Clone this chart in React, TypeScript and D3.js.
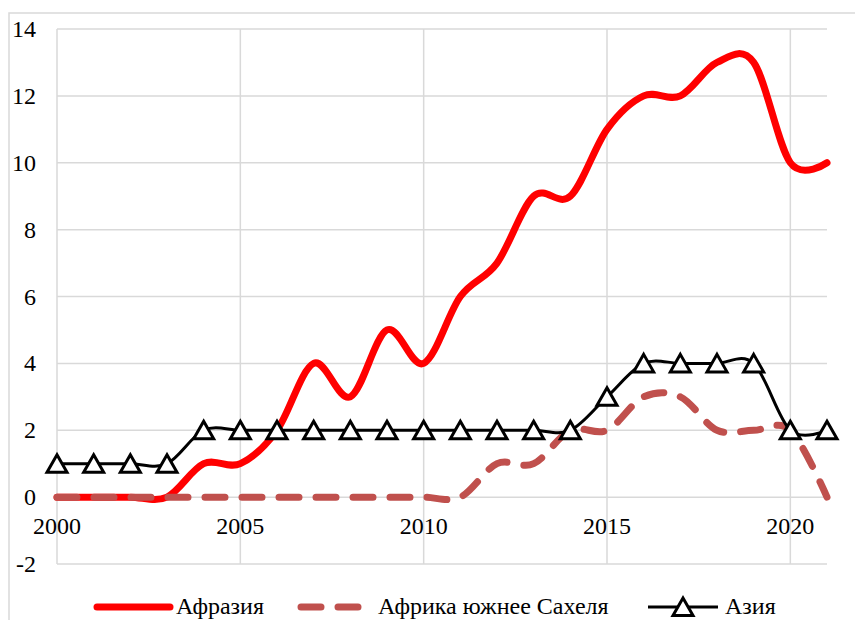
import React from "react";
import * as d3 from "d3";

const years = d3.range(2000, 2022);
const afrazia = [0, 0, 0, 0, 1, 1, 2, 4, 3, 5, 4, 6, 7, 9, 9, 11, 12, 12, 13, 13, 10, 10];
const africaSouth = [0, 0, 0, 0, 0, 0, 0, 0, 0, 0, 0, 0, 1, 1, 2, 2, 3, 3, 2, 2, 2, 0];
const asia = [1, 1, 1, 1, 2, 2, 2, 2, 2, 2, 2, 2, 2, 2, 2, 3, 4, 4, 4, 4, 2, 2];
const yTicks = [-2, 0, 2, 4, 6, 8, 10, 12, 14];
const xTicks = [2000, 2005, 2010, 2015, 2020];
const legendLabels = ["Афразия", "Африка южнее Сахеля", "Азия"];

const W = 855;
const H = 620;
const FONT = '"Liberation Serif", "Times New Roman", "DejaVu Serif", serif';
const textStyle: React.CSSProperties = { fontFamily: FONT, fontSize: 24 };

export default function App() {
  const x = d3.scaleLinear().domain([2000, 2021]).range([57, 827]);
  const y = d3.scaleLinear().domain([-2, 14]).range([564, 29]);
  const line = d3
    .line<number>()
    .x((_, i) => x(years[i]))
    .y((d) => y(d))
    .curve(d3.curveCardinal.tension(0));

  const tri = (cx: number, cy: number) =>
    `M${cx},${cy - 9}L${cx + 10},${cy + 8.5}L${cx - 10},${cy + 8.5}Z`;

  return (
    <svg
      width={W}
      height={H}
      style={{ position: "absolute", left: 0, top: 0, background: "#fff", fontFamily: FONT }}
    >
      <rect x={9} y={13} width={900} height={700} fill="#fff" stroke="#D9D9D9" strokeWidth={1.5} />
      {yTicks.map((t) => (
        <line key={"h" + t} x1={x(2000)} x2={x(2021)} y1={y(t)} y2={y(t)} stroke="#D9D9D9" strokeWidth={1.5} />
      ))}
      {xTicks.map((t) => (
        <line key={"v" + t} x1={x(t)} x2={x(t)} y1={y(14)} y2={y(-2)} stroke="#D9D9D9" strokeWidth={1.5} />
      ))}
      {yTicks.map((t) => (
        <text key={"yl" + t} x={36} y={y(t) + 8} textAnchor="end" style={textStyle} fill="#000">
          {t}
        </text>
      ))}
      {xTicks.map((t) => (
        <text key={"xl" + t} x={x(t)} y={534} textAnchor="middle" style={textStyle} fill="#000">
          {t}
        </text>
      ))}
      <path d={line(afrazia) || ""} fill="none" stroke="#FF0000" strokeWidth={7} strokeLinejoin="round" strokeLinecap="round" />
      <path
        d={line(africaSouth) || ""}
        fill="none"
        stroke="#C0504D"
        strokeWidth={7}
        strokeDasharray="20 17"
        strokeLinecap="round"
      />
      <path d={line(asia) || ""} fill="none" stroke="#000" strokeWidth={3} />
      {asia.map((v, i) => (
        <path key={"m" + i} d={tri(x(years[i]), y(v))} fill="#fff" stroke="#000" strokeWidth={3} strokeLinejoin="miter" />
      ))}
      <g>
        <line x1={97} x2={170} y1={607} y2={607} stroke="#FF0000" strokeWidth={7} strokeLinecap="round" />
        <text x={176} y={614} style={textStyle} fill="#000">{legendLabels[0]}</text>
        <line x1={301} x2={361} y1={607} y2={607} stroke="#C0504D" strokeWidth={7} strokeDasharray="20 17" strokeLinecap="round" />
        <text x={378} y={614} style={textStyle} fill="#000">{legendLabels[1]}</text>
        <line x1={648} x2={718} y1={607} y2={607} stroke="#000" strokeWidth={3} />
        <path d={tri(683, 607)} fill="#fff" stroke="#000" strokeWidth={3} />
        <text x={725} y={614} style={textStyle} fill="#000">{legendLabels[2]}</text>
      </g>
    </svg>
  );
}
